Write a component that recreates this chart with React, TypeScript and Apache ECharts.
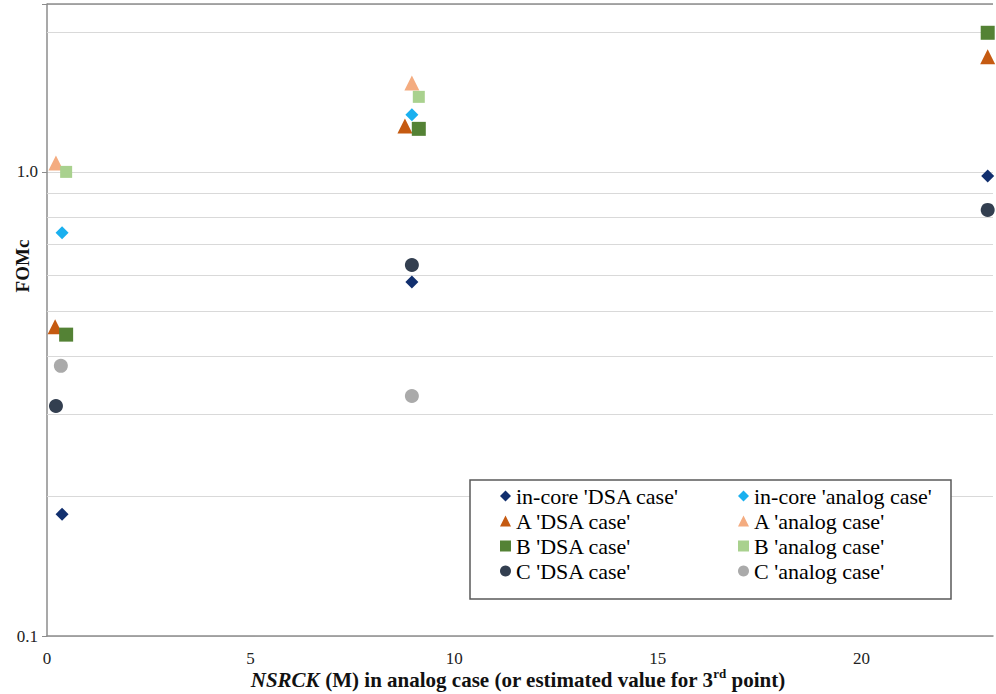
import React, { useEffect, useRef } from 'react';
import * as echarts from 'echarts';

const SERIES_NAMES = [
  "in-core 'DSA case'",
  "in-core 'analog case'",
  "A 'DSA case'",
  "A 'analog case'",
  "B 'DSA case'",
  "B 'analog case'",
  "C 'DSA case'",
  "C 'analog case'",
];

const IN_CORE_DSA = [[0.37, 0.183], [8.96, 0.579], [23.1, 0.98]];
const IN_CORE_ANALOG = [[0.37, 0.739], [8.96, 1.327]];
const A_DSA = [[0.2, 0.464], [8.79, 1.256], [23.1, 1.77]];
const A_ANALOG = [[0.22, 1.045], [8.96, 1.555]];
const B_DSA = [[0.47, 0.446], [9.13, 1.238], [23.1, 1.994]];
const B_ANALOG = [[0.47, 1.0], [9.13, 1.451]];
const C_DSA = [[0.22, 0.313], [8.96, 0.63], [23.1, 0.828]];
const C_ANALOG = [[0.34, 0.382], [8.96, 0.329]];

const SERIES_DATA = [IN_CORE_DSA, IN_CORE_ANALOG, A_DSA, A_ANALOG, B_DSA, B_ANALOG, C_DSA, C_ANALOG];
const SERIES_COLORS = ['#112f6e', '#1ab0ef', '#c55a11', '#f4ac80', '#548235', '#a9d18e', '#333f50', '#aaaaaa'];
const SERIES_SYMBOLS = ['diamond', 'diamond', 'triangle', 'triangle', 'rect', 'rect', 'circle', 'circle'];
const SERIES_SIZES = [13, 13, 15, 15, 14, 12, 14, 14];

const X_MIN = 0;
const X_MAX = 23.23;
const X_INTERVAL = 5;
const Y_MIN = 0.1;
const Y_MAX = 2.3;
const Y_MINOR_GRID = [0.2, 0.3, 0.4, 0.5, 0.6, 0.7, 0.8, 0.9, 2];

const FONT = 'Liberation Serif';

export default function App() {
  const ref = useRef<HTMLDivElement>(null);

  useEffect(() => {
    if (!ref.current) return;
    const chart = echarts.init(ref.current, null, { renderer: 'svg' });

    const series: any[] = SERIES_NAMES.map((name, i) => ({
      name,
      type: 'scatter',
      data: SERIES_DATA[i],
      symbol: SERIES_SYMBOLS[i],
      symbolSize: SERIES_SIZES[i],
      itemStyle: { color: SERIES_COLORS[i], opacity: 1 },
      z: 2,
    }));

    series[0].markLine = {
      silent: true,
      symbol: 'none',
      label: { show: false },
      animation: false,
      z: 1,
      data: [
        ...Y_MINOR_GRID.map((v) => ({ yAxis: v, lineStyle: { color: '#d9d9d9', width: 1, type: 'solid' } })),
        { yAxis: Y_MAX, lineStyle: { color: '#8c8c8c', width: 1.5, type: 'solid' } },
      ],
    };

    const legendBase = {
      orient: 'vertical',
      top: 485,
      padding: 0,
      itemGap: 3,
      itemWidth: 11,
      itemHeight: 11,
      selectedMode: false,
      z: 61,
      textStyle: { fontFamily: FONT, fontSize: 22, color: '#000' },
    };

    chart.setOption({
      animation: false,
      backgroundColor: '#ffffff',
      grid: { left: 47, top: 4, right: 0, bottom: 58, containLabel: false },
      xAxis: {
        type: 'value',
        min: X_MIN,
        max: X_MAX,
        interval: X_INTERVAL,
        axisLine: { show: true, lineStyle: { color: '#8c8c8c', width: 1.5 } },
        axisTick: { show: false },
        splitLine: { show: false },
        axisLabel: {
          fontFamily: FONT,
          fontSize: 17,
          color: '#222',
          margin: 14,
          formatter: (v: number) => (Math.abs(v % X_INTERVAL) < 1e-6 ? String(v) : ''),
        },
      },
      yAxis: {
        type: 'log',
        logBase: 10,
        min: Y_MIN,
        max: Y_MAX,
        axisLine: { show: true, lineStyle: { color: '#8c8c8c', width: 1.5 } },
        axisTick: { show: true, length: 5, lineStyle: { color: '#8c8c8c' } },
        splitLine: { show: true, lineStyle: { color: '#d9d9d9', width: 1 } },
        axisLabel: {
          fontFamily: FONT,
          fontSize: 17,
          color: '#222',
          margin: 9,
          formatter: (v: number) => {
            if (Math.abs(v - 1) < 1e-6) return '1.0';
            if (Math.abs(v - 0.1) < 1e-6) return '0.1';
            return '';
          },
        },
      },
      legend: [
        { ...legendBase, left: 500, data: [SERIES_NAMES[0], SERIES_NAMES[2], SERIES_NAMES[4], SERIES_NAMES[6]] },
        { ...legendBase, left: 738, data: [SERIES_NAMES[1], SERIES_NAMES[3], SERIES_NAMES[5], SERIES_NAMES[7]] },
      ],
      graphic: [
        {
          type: 'rect',
          z: 60,
          shape: { x: 470, y: 480, width: 481, height: 119 },
          style: { fill: '#ffffff', stroke: '#595959', lineWidth: 1.5 },
        },
        {
          type: 'text',
          x: 22,
          y: 266,
          rotation: Math.PI / 2,
          style: {
            text: 'FOMc',
            fontFamily: FONT,
            fontSize: 19,
            fontWeight: 'bold',
            fill: '#111',
            align: 'center',
            verticalAlign: 'middle',
          },
        },
        {
          type: 'text',
          x: 518,
          y: 680,
          style: {
            text: '{i|NSRCK} (M) in analog case (or estimated value for 3{sup|rd} point)',
            fontFamily: FONT,
            fontSize: 21,
            fontWeight: 'bold',
            fill: '#111',
            align: 'center',
            verticalAlign: 'middle',
            rich: {
              i: { fontFamily: FONT, fontSize: 21, fontWeight: 'bold', fontStyle: 'italic', fill: '#111' },
              sup: { fontFamily: FONT, fontSize: 13, fontWeight: 'bold', fill: '#111', verticalAlign: 'top', lineHeight: 26 },
            },
          },
        },
      ],
      series,
    });

    return () => {
      chart.dispose();
    };
  }, []);

  return (
    <div
      ref={ref}
      style={{ position: 'fixed', left: 0, top: 0, width: 996, height: 694 }}
    />
  );
}
